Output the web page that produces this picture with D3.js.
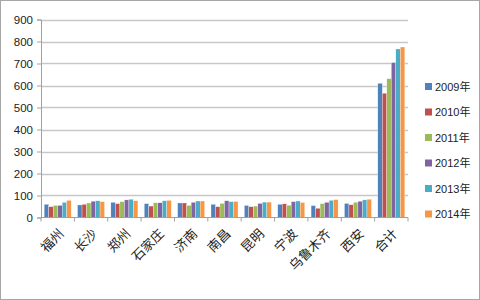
<!DOCTYPE html>
<html>
<head>
<meta charset="utf-8">
<script src="https://cdn.jsdelivr.net/npm/d3@7"></script>
<style>
  body { margin: 0; background: #fff; }
  .tick text { font-family: "Liberation Sans", Arial, sans-serif; }
</style>
</head>
<body>
<div id="chart"></div>
<script>
var cities = ["福州", "长沙", "郑州", "石家庄", "济南", "南昌", "昆明", "宁波", "乌鲁木齐", "西安", "合计"];
var years = ["2009年", "2010年", "2011年", "2012年", "2013年", "2014年"];
var v2009 = [60, 57, 69, 63, 66, 60, 55, 60, 54, 64, 610];
var v2010 = [49, 60, 63, 52, 66, 49, 49, 62, 42, 58, 565];
var v2011 = [55, 66, 72, 67, 55, 64, 52, 56, 63, 69, 631];
var v2012 = [55, 74, 80, 67, 69, 76, 64, 72, 69, 74, 704];
var v2013 = [69, 76, 83, 76, 75, 72, 70, 75, 78, 80, 766];
var v2014 = [78, 72, 76, 78, 75, 73, 70, 68, 81, 83, 775];
var yTicks = [0, 100, 200, 300, 400, 500, 600, 700, 800, 900];
var colors = ["#4F81BD", "#C0504D", "#9BBB59", "#8064A2", "#4BACC6", "#F79646"];

var series = [v2009, v2010, v2011, v2012, v2013, v2014];
var W = 480, H = 300;
var plot = { left: 41, right: 408, top: 19.5, bottom: 217.5 };

var svg = d3.select("#chart").append("svg")
  .attr("width", W).attr("height", H);

svg.append("rect")
  .attr("x", 0.5).attr("y", 0.5)
  .attr("width", W - 1).attr("height", H - 1)
  .attr("fill", "#fff").attr("stroke", "#a6a6a6");

var x = d3.scaleBand().domain(cities)
  .range([plot.left, plot.right])
  .paddingInner(0.19).paddingOuter(0.095);
var xs = d3.scaleBand().domain(years)
  .range([0, x.bandwidth()]);
var y = d3.scaleLinear().domain([0, 900])
  .range([plot.bottom, plot.top]);

// gridlines
svg.append("g").selectAll("line")
  .data(yTicks.slice(1))
  .enter().append("line")
  .attr("x1", plot.left).attr("x2", plot.right)
  .attr("y1", function(d) { return Math.round(y(d)) + 0.5; })
  .attr("y2", function(d) { return Math.round(y(d)) + 0.5; })
  .attr("stroke", "#c8c8c8").attr("stroke-width", 1.3);

// bars
var groups = svg.append("g").selectAll("g")
  .data(cities)
  .enter().append("g")
  .attr("transform", function(d) { return "translate(" + x(d) + ",0)"; });

groups.selectAll("rect")
  .data(function(d, i) { return series.map(function(s, j) { return { year: years[j], v: s[i], c: colors[j] }; }); })
  .enter().append("rect")
  .attr("x", function(d) { return xs(d.year); })
  .attr("width", xs.bandwidth())
  .attr("y", function(d) { return y(d.v); })
  .attr("height", function(d) { return y(0) - y(d.v); })
  .attr("fill", function(d) { return d.c; })
  .attr("stroke", "#fff").attr("stroke-width", 0.3);

// y axis
var yAxis = svg.append("g")
  .attr("transform", "translate(" + plot.left + ",0)")
  .call(d3.axisLeft(y).tickValues(yTicks).tickSize(4).tickPadding(4));
yAxis.select(".domain").attr("stroke", "#a0a0a0");
yAxis.selectAll(".tick line").attr("stroke", "#a0a0a0");
yAxis.selectAll(".tick text").attr("font-size", 11.5).attr("fill", "#222");

// x axis
var xAxis = svg.append("g")
  .attr("transform", "translate(0," + plot.bottom + ")");
xAxis.append("line")
  .attr("x1", plot.left).attr("x2", plot.right)
  .attr("stroke", "#a0a0a0");
xAxis.selectAll(".xt")
  .data(d3.range(cities.length + 1))
  .enter().append("line")
  .attr("x1", function(i) { return plot.left + i * x.step(); })
  .attr("x2", function(i) { return plot.left + i * x.step(); })
  .attr("y1", 0).attr("y2", 4)
  .attr("stroke", "#a0a0a0");
xAxis.selectAll(".xl")
  .data(cities)
  .enter().append("text")
  .attr("transform", function(d) {
    return "translate(" + (x(d) + x.bandwidth() / 2 + 7) + ",17) rotate(-45)";
  })
  .attr("text-anchor", "end")
  .attr("font-family", "'Noto Sans CJK SC', sans-serif")
  .attr("font-size", 13)
  .attr("fill", "#222")
  .text(function(d) { return d; });

// legend
var legend = svg.append("g").selectAll("g")
  .data(years)
  .enter().append("g")
  .attr("transform", function(d, i) { return "translate(425," + (87 + i * 25.5) + ")"; });
legend.append("rect")
  .attr("x", 0).attr("y", -4)
  .attr("width", 7).attr("height", 7)
  .attr("fill", function(d, i) { return colors[i]; });
legend.append("text")
  .attr("x", 10).attr("y", 0)
  .attr("dy", "0.35em")
  .attr("font-family", "'Liberation Sans', 'Noto Sans CJK SC', sans-serif")
  .attr("font-size", 11)
  .attr("fill", "#222")
  .text(function(d) { return d; });
</script>
</body>
</html>
